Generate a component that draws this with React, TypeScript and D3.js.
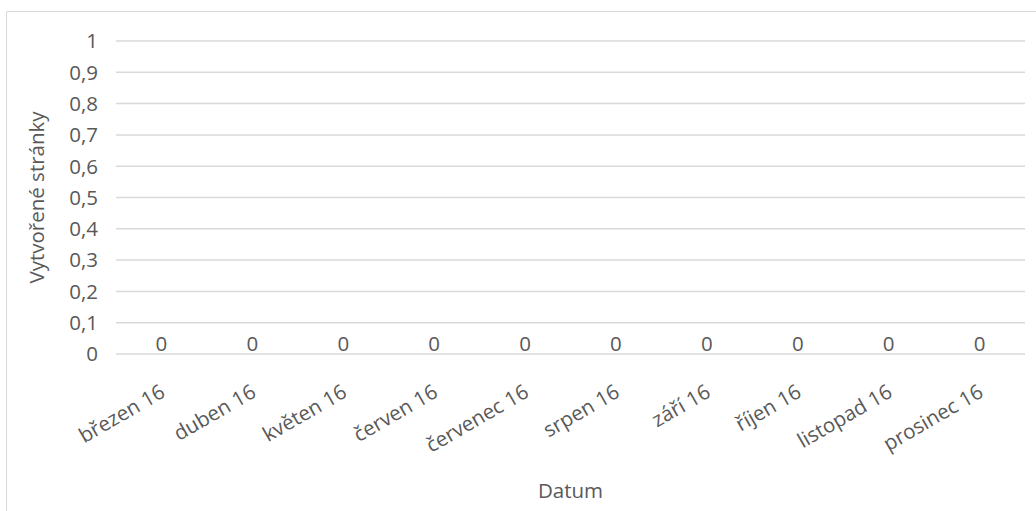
import React from "react";
import * as d3 from "d3";

const categories: string[] = [
  "březen 16",
  "duben 16",
  "květen 16",
  "červen 16",
  "červenec 16",
  "srpen 16",
  "září 16",
  "říjen 16",
  "listopad 16",
  "prosinec 16",
];
const values: number[] = [0, 0, 0, 0, 0, 0, 0, 0, 0, 0];
const yTicks: number[] = [0, 0.1, 0.2, 0.3, 0.4, 0.5, 0.6, 0.7, 0.8, 0.9, 1];
const yTitle = "Vytvořené stránky";
const xTitle = "Datum";

const W = 1036;
const H = 511;
const plot = { left: 116, right: 1025, top: 41, bottom: 354 };
const FONT = "'Open Sans', sans-serif";
const TEXT = "#595959";
const GRID = "#d9d9d9";
const FS = 20.5;

const fmt = (v: number) => String(+v.toFixed(1)).replace(".", ",");

export default function App() {
  const x = d3
    .scaleBand<string>()
    .domain(categories)
    .range([plot.left, plot.right]);
  const y = d3.scaleLinear().domain([0, 1]).range([plot.bottom, plot.top]);

  return (
    <svg
      width={W}
      height={H}
      style={{ position: "absolute", left: 0, top: 0, background: "#fff" }}
      fontFamily={FONT}
    >
      <rect x={0} y={0} width={W} height={H} fill="#fff" />
      <path d={`M6.5,${H + 5} V11.5 H${W + 5}`} fill="none" stroke={GRID} strokeWidth={1} />
      {yTicks.map((t) => (
        <g key={t}>
          <line
            x1={plot.left}
            x2={plot.right}
            y1={y(t)}
            y2={y(t)}
            stroke={GRID}
            strokeWidth={1.5}
          />
          <text
            x={98}
            y={y(t)}
            dy="0.36em"
            textAnchor="end"
            fontSize={FS}
            fill={TEXT}
          >
            {fmt(t)}
          </text>
        </g>
      ))}
      {categories.map((c, i) => {
        const cx = (x(c) ?? 0) + x.bandwidth() / 2;
        return (
          <g key={c}>
            <text
              x={cx}
              y={y(values[i]) - 3}
              textAnchor="middle"
              fontSize={FS}
              fill={TEXT}
            >
              {values[i]}
            </text>
            <text
              transform={`translate(${cx + 5},${396}) rotate(-30)`}
              textAnchor="end"
              fontSize={FS}
              fill={TEXT}
            >
              {c}
            </text>
          </g>
        );
      })}
      <text
        transform={`translate(${44},${(plot.top + plot.bottom) / 2}) rotate(-90)`}
        textAnchor="middle"
        fontSize={FS}
        fill={TEXT}
      >
        {yTitle}
      </text>
      <text
        x={(plot.left + plot.right) / 2}
        y={498}
        textAnchor="middle"
        fontSize={FS}
        fill={TEXT}
      >
        {xTitle}
      </text>
    </svg>
  );
}
